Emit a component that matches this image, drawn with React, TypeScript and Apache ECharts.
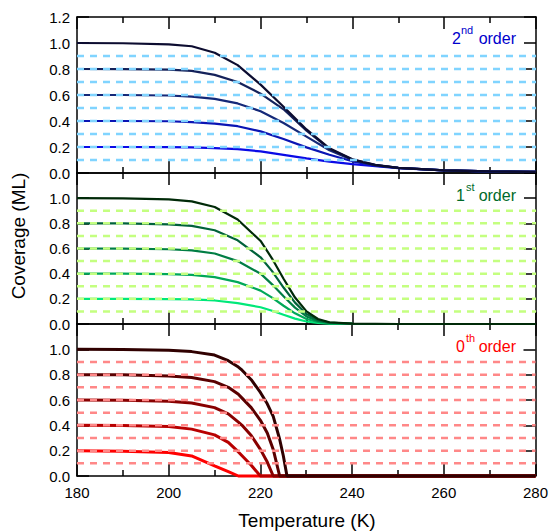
import React, { useEffect, useRef } from "react";
import * as echarts from "echarts";

// ---------- data ----------
const coverageLabels = ["0.2", "0.4", "0.6", "0.8", "1.0"];
const dashLevels = [0.1, 0.2, 0.3, 0.4, 0.5, 0.6, 0.7, 0.8, 0.9];

// 2nd order
const T2 = [180, 190, 200, 205, 210, 215, 220, 225, 230, 235, 240, 245, 250, 260, 270, 280];
const second02 = [0.2, 0.2, 0.199, 0.197, 0.192, 0.183, 0.166, 0.14, 0.112, 0.087, 0.068, 0.052, 0.038, 0.02, 0.012, 0.008];
const second04 = [0.4, 0.4, 0.398, 0.392, 0.38, 0.36, 0.32, 0.262, 0.197, 0.14, 0.09, 0.057, 0.039, 0.02, 0.012, 0.008];
const second06 = [0.6, 0.6, 0.596, 0.588, 0.57, 0.535, 0.475, 0.385, 0.28, 0.175, 0.1, 0.06, 0.04, 0.02, 0.012, 0.008];
const second08 = [0.8, 0.799, 0.795, 0.785, 0.755, 0.7, 0.61, 0.49, 0.325, 0.185, 0.103, 0.061, 0.04, 0.02, 0.012, 0.008];
const second10 = [1.0, 0.998, 0.99, 0.975, 0.925, 0.83, 0.68, 0.51, 0.335, 0.19, 0.105, 0.062, 0.04, 0.02, 0.012, 0.008];

// 1st order
const T1 = [180, 190, 200, 205, 210, 215, 220, 222.5, 225, 227.5, 230, 232.5, 235, 240, 250, 280];
const first02 = [0.2, 0.2, 0.198, 0.195, 0.187, 0.166, 0.133, 0.105, 0.073, 0.043, 0.02, 0.008, 0.003, 0.001, 0, 0];
const first04 = [0.4, 0.4, 0.396, 0.39, 0.373, 0.333, 0.265, 0.21, 0.145, 0.085, 0.04, 0.016, 0.006, 0.001, 0, 0];
const first06 = [0.6, 0.599, 0.594, 0.585, 0.56, 0.5, 0.4, 0.315, 0.22, 0.13, 0.06, 0.024, 0.008, 0.002, 0, 0];
const first08 = [0.8, 0.799, 0.792, 0.78, 0.745, 0.665, 0.53, 0.42, 0.29, 0.17, 0.08, 0.032, 0.011, 0.002, 0, 0];
const first10 = [1.0, 0.998, 0.99, 0.975, 0.93, 0.83, 0.66, 0.52, 0.36, 0.21, 0.1, 0.04, 0.014, 0.003, 0, 0];

// 0th order
const T0 = [180, 190, 200, 205, 210, 213, 215.2, 216, 218, 220, 221.5, 222.8, 224.2, 225, 225.8, 240, 260, 280];
const zeroth02 = [0.2, 0.196, 0.185, 0.158, 0.08, 0.035, 0, 0, 0, 0, 0, 0, 0, 0, 0, 0, 0, 0];
const zeroth04 = [0.4, 0.398, 0.39, 0.37, 0.325, 0.265, 0.19, 0.16, 0.085, 0, 0, 0, 0, 0, 0, 0, 0, 0];
const zeroth06 = [0.6, 0.599, 0.59, 0.577, 0.54, 0.49, 0.425, 0.4, 0.32, 0.21, 0.11, 0, 0, 0, 0, 0, 0, 0];
const zeroth08 = [0.8, 0.799, 0.79, 0.778, 0.745, 0.7, 0.645, 0.615, 0.54, 0.44, 0.34, 0.21, 0, 0, 0, 0, 0, 0];
const zeroth10 = [1.0, 0.999, 0.993, 0.982, 0.955, 0.91, 0.86, 0.835, 0.76, 0.66, 0.57, 0.47, 0.29, 0.16, 0, 0, 0, 0];

// ---------- styling ----------
const FONT = "'Liberation Sans', Arial, sans-serif";
const panels = [
  {
    temps: T2,
    curves: [second02, second04, second06, second08, second10],
    colors: ["#0a0ae6", "#0a14b4", "#142878", "#14215a", "#0c0c30"],
    dash: "#80d4ff",
    width: 2.2,
    grid: { top: 17, height: 156 },
    label: { num: "2", sup: "nd", color: "#0000cc", base: 44, numRight: 461, supLeft: 461 },
  },
  {
    temps: T1,
    curves: [first02, first04, first06, first08, first10],
    colors: ["#00e87a", "#00a858", "#007e44", "#00623a", "#002a08"],
    dash: "#c4ff80",
    width: 2.2,
    grid: { top: 173, height: 151 },
    label: { num: "1", sup: "st", color: "#006a2a", base: 201, numRight: 465, supLeft: 466 },
  },
  {
    temps: T0,
    curves: [zeroth02, zeroth04, zeroth06, zeroth08, zeroth10],
    colors: ["#ff0000", "#b80000", "#880000", "#5a0000", "#300000"],
    dash: "#ff8888",
    width: 3,
    grid: { top: 324, height: 152 },
    label: { num: "0", sup: "th", color: "#ff0000", base: 352, numRight: 465, supLeft: 466 },
  },
];

export default function App() {
  const ref = useRef<HTMLDivElement>(null);
  useEffect(() => {
    if (!ref.current) return;
    const chart = echarts.init(ref.current, undefined, { renderer: "svg" });
    const axisLineStyle = { color: "#000", width: 1.5 };

    const grid: any[] = [];
    const xAxis: any[] = [];
    const yAxis: any[] = [];
    const series: any[] = [];
    const graphic: any[] = [];

    panels.forEach((p, i) => {
      grid.push({ left: 77, right: 15, top: p.grid.top, height: p.grid.height });
      ["bottom", "top"].forEach((pos) => {
        xAxis.push({
          type: "value",
          gridIndex: i,
          position: pos,
          min: 180,
          max: 280,
          interval: 20,
          axisLine: { show: true, onZero: false, lineStyle: axisLineStyle },
          axisTick: { show: true, inside: true, length: 12, lineStyle: axisLineStyle },
          minorTick: { show: true, splitNumber: 2, length: 6, lineStyle: axisLineStyle },
          axisLabel: {
            show: pos === "bottom" && i === 2,
            margin: 9,
            fontSize: 15,
            color: "#000",
            fontFamily: FONT,
          },
          splitLine: { show: false },
        });
      });
      ["left", "right"].forEach((pos) => {
        yAxis.push({
          type: "value",
          gridIndex: i,
          position: pos,
          min: 0,
          max: 1.2,
          interval: 0.2,
          axisLine: { show: true, onZero: false, lineStyle: axisLineStyle },
          axisTick: { show: true, inside: true, length: 12, lineStyle: axisLineStyle },
          axisLabel: {
            show: pos === "left",
            showMaxLabel: i === 0,
            margin: 7,
            fontSize: 15,
            color: "#000",
            fontFamily: FONT,
            formatter: (v: number) => v.toFixed(1),
          },
          splitLine: { show: false },
        });
      });

      p.curves.forEach((vals, j) => {
        series.push({
          type: "line",
          name: `${i}-${coverageLabels[j]}`,
          xAxisIndex: i * 2,
          yAxisIndex: i * 2,
          data: p.temps.map((t, k) => [t, vals[k]]),
          showSymbol: false,
          clip: false,
          z: 3,
          lineStyle: { color: p.colors[j], width: p.width },
        });
      });
      dashLevels.forEach((lv) => {
        series.push({
          type: "line",
          xAxisIndex: i * 2,
          yAxisIndex: i * 2,
          data: [
            [180, lv],
            [280, lv],
          ],
          showSymbol: false,
          z: 4,
          lineStyle: { color: p.dash, width: 2.5, type: [7, 6] },
        });
      });

      const L = p.label;
      graphic.push(
        {
          type: "text",
          x: L.numRight,
          y: L.base - 5.6,
          style: { text: L.num, fill: L.color, font: `16px ${FONT}`, align: "right", verticalAlign: "middle" },
        },
        {
          type: "text",
          x: L.supLeft,
          y: L.base - 9.8 - 3.8,
          style: { text: L.sup, fill: L.color, font: `11px ${FONT}`, align: "left", verticalAlign: "middle" },
        },
        {
          type: "text",
          x: 516,
          y: L.base - 5.6,
          style: { text: "order", fill: L.color, font: `16px ${FONT}`, align: "right", verticalAlign: "middle" },
        }
      );
    });

    graphic.push(
      {
        type: "text",
        x: 307,
        y: 520,
        style: { text: "Temperature (K)", fill: "#000", font: `19px ${FONT}`, align: "center", verticalAlign: "middle" },
      },
      {
        type: "text",
        x: 18,
        y: 236,
        rotation: Math.PI / 2,
        style: { text: "Coverage (ML)", fill: "#000", font: `19px ${FONT}`, align: "center", verticalAlign: "middle" },
      }
    );

    chart.setOption({
      animation: false,
      backgroundColor: "#fff",
      grid,
      xAxis,
      yAxis,
      series,
      graphic,
    });
    return () => chart.dispose();
  }, []);
  return (
    <div
      ref={ref}
      style={{ position: "fixed", left: 0, top: 0, width: 551, height: 532 }}
    />
  );
}
